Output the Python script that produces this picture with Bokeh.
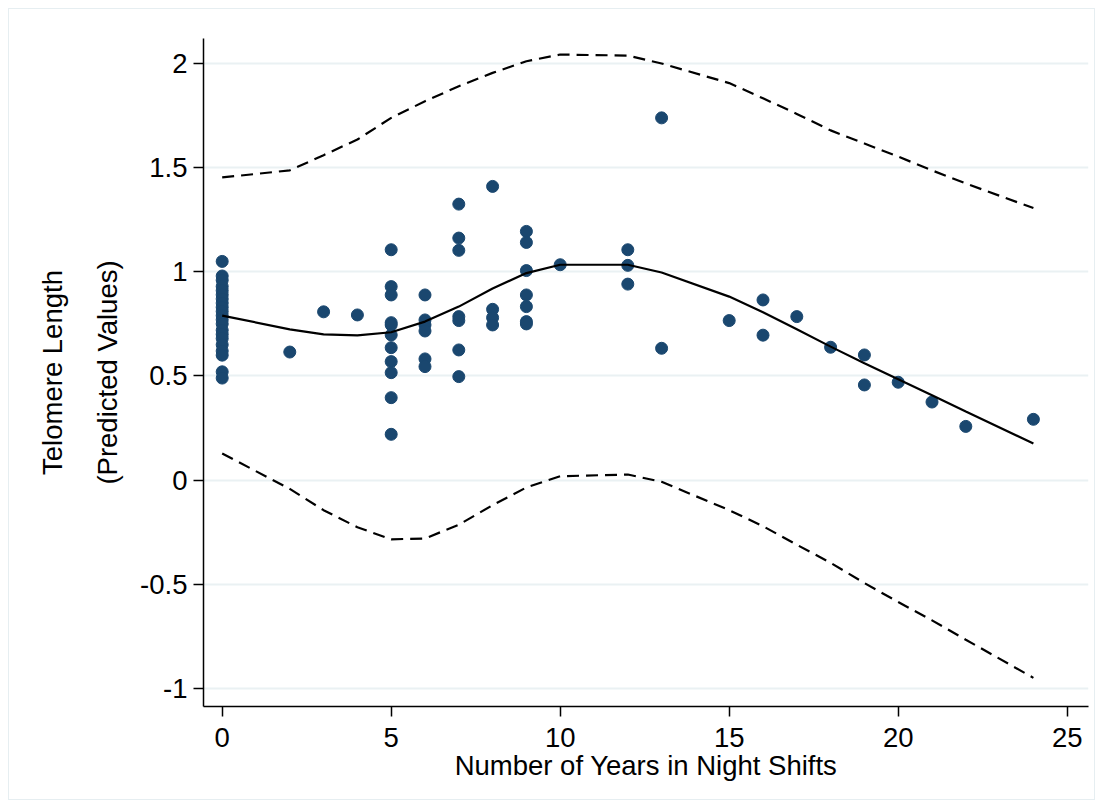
from bokeh.plotting import figure
from bokeh.models import LinearAxis, FixedTicker, NumeralTickFormatter, Range1d
from bokeh.embed import file_html
from bokeh.resources import INLINE

# ---- observed data (years in night shifts, telomere length) ----
x0 = [0] * 21
y0 = [1.05, 0.98, 0.96, 0.93, 0.91, 0.89, 0.87, 0.85, 0.83, 0.81, 0.79,
      0.77, 0.75, 0.72, 0.70, 0.68, 0.65, 0.62, 0.60, 0.52, 0.49]
x_rest = [2, 3, 4,
          5, 5, 5, 5, 5, 5, 5, 5, 5, 5, 5,
          6, 6, 6, 6, 6, 6,
          7, 7, 7, 7, 7, 7, 7,
          8, 8, 8, 8,
          9, 9, 9, 9, 9, 9, 9,
          10,
          12, 12, 12,
          13, 13,
          15, 16, 16, 17, 18, 19, 19, 20, 21, 22, 24]
y_rest = [0.615, 0.808, 0.793,
          1.106, 0.929, 0.889, 0.756, 0.745, 0.697, 0.636, 0.569, 0.516, 0.396, 0.220,
          0.889, 0.769, 0.745, 0.716, 0.582, 0.545,
          1.325, 1.162, 1.103, 0.785, 0.766, 0.625, 0.497,
          1.41, 0.82, 0.78, 0.745,
          1.194, 1.141, 1.006, 0.889, 0.833, 0.761, 0.75,
          1.034,
          1.106, 1.031, 0.941,
          1.739, 0.633,
          0.766, 0.865, 0.696, 0.785, 0.638, 0.601, 0.457, 0.47, 0.375, 0.258, 0.292]
obs_x = x0 + x_rest
obs_y = y0 + y_rest

# ---- fitted values and confidence limits ----
fit_x = [0, 2, 3, 4, 5, 6, 7, 8, 9, 10, 12, 13, 15, 16, 17, 18, 19, 20, 21, 22, 24]
fit_y = [0.79, 0.724, 0.70, 0.695, 0.71, 0.761, 0.833, 0.92, 0.994, 1.034, 1.034,
         0.997, 0.881, 0.806, 0.724, 0.641, 0.561, 0.484, 0.407, 0.329, 0.176]
ci_lo = [0.128, -0.042, -0.144, -0.226, -0.284, -0.28, -0.214, -0.12, -0.035, 0.019,
         0.027, -0.008, -0.144, -0.221, -0.31, -0.397, -0.494, -0.585, -0.673, -0.766, -0.949]
ci_hi = [1.453, 1.487, 1.56, 1.635, 1.739, 1.819, 1.891, 1.955, 2.011, 2.043, 2.038,
         2.0, 1.906, 1.833, 1.758, 1.679, 1.616, 1.553, 1.487, 1.424, 1.306]

y_ticks = [-1, -0.5, 0, 0.5, 1, 1.5, 2]
x_ticks = [0, 5, 10, 15, 20, 25]
x_title = "Number of Years in Night Shifts"
y_title_1 = "Telomere Length"
y_title_2 = "(Predicted Values)"

FONT = "Liberation Sans"
FS = "27.5px"

p = figure(width=1087, height=792, output_backend="svg", toolbar_location=None,
           x_range=Range1d(-0.553, 25.63), y_range=Range1d(-1.0865, 2.12),
           min_border_left=194, min_border_right=8, min_border_top=29, min_border_bottom=95,
           background_fill_color="white", border_fill_color="white")
p.styles = {"margin": "8px 0px 0px 8px", "border": "1px solid #e6eef1"}
p.outline_line_color = None
p.xgrid.visible = False
p.ygrid.grid_line_color = "#eaf1f3"
p.ygrid.grid_line_width = 2

# x axis
xa = p.xaxis[0]
xa.ticker = FixedTicker(ticks=x_ticks)
xa.axis_label = x_title
# y axis
ya = p.yaxis[0]
ya.ticker = FixedTicker(ticks=y_ticks)
ya.formatter = NumeralTickFormatter(format="0.[0]")
ya.axis_label = y_title_2

for ax in (xa, ya):
    ax.axis_line_color = "black"
    ax.axis_line_width = 1.5
    ax.major_tick_line_color = "black"
    ax.major_tick_line_width = 1.5
    ax.major_tick_out = 10
    ax.major_tick_in = 0
    ax.minor_tick_line_color = None
    ax.major_label_text_font = FONT
    ax.major_label_text_font_size = FS
    ax.major_label_text_color = "black"
    ax.axis_label_text_font = FONT
    ax.axis_label_text_font_size = FS
    ax.axis_label_text_font_style = "normal"
    ax.axis_label_text_color = "black"

xa.major_label_standoff = 11
xa.axis_label_standoff = 0
ya.major_label_standoff = 6
ya.axis_label_standoff = 14

ya2 = LinearAxis(ticker=FixedTicker(ticks=[]), axis_label=y_title_1,
                 axis_line_color=None, major_tick_line_color=None, minor_tick_line_color=None,
                 major_tick_out=0, major_tick_in=0, major_label_standoff=0,
                 major_label_text_font_size="0px",
                 axis_label_text_font=FONT, axis_label_text_font_size=FS,
                 axis_label_text_font_style="normal", axis_label_text_color="black",
                 axis_label_standoff=22)
p.add_layout(ya2, "left")

# lines
p.line(fit_x, ci_hi, line_color="black", line_width=2.2, line_dash="12 7")
p.line(fit_x, ci_lo, line_color="black", line_width=2.2, line_dash="12 7")
p.scatter(obs_x, obs_y, size=12, marker="circle", fill_color="#1a476f", line_color="#1a476f")
p.line(fit_x, fit_y, line_color="black", line_width=2.2)

open("out.html", "w").write(file_html(p, INLINE))
